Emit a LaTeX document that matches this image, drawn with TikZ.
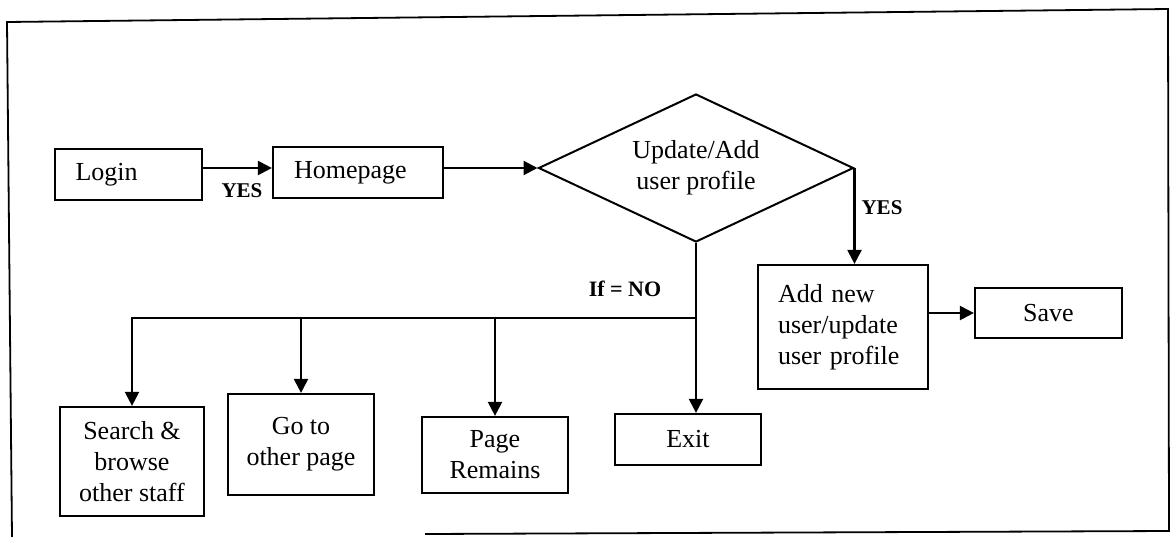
\documentclass[tikz,border=0pt]{standalone}
\usepackage{fontspec}
\setmainfont{Liberation Serif}
\usetikzlibrary{arrows.meta,shapes.geometric,calc}

\begin{document}
\begin{tikzpicture}[x=1pt,y=-1pt,
  every node/.style={font=\fontsize{26}{31}\selectfont},
  box/.style={draw, line width=2.2pt, inner sep=0pt, align=center},
  lbox/.style={draw, line width=2.2pt, inner ysep=0pt, align=left},
  decision/.style={draw, diamond, aspect=2.1, inner sep=0pt, line width=2pt, align=center},
  flow/.style={line width=2.2pt},
  arr/.style={flow, -{Triangle[length=14pt,width=14pt]}},
  lbl/.style={font=\bfseries\fontsize{21}{25}\selectfont},
]
\useasboundingbox (0,0) rectangle (1171,536);

% outer frame
\draw[line width=1.8pt] (12,537) -- (7,22) -- (1168,9) -- (1169,531) -- (425,534);

% process boxes
\node[lbox, text width=106pt, inner xsep=20.5pt, minimum height=51pt] (login) at (128.5,174.5) {Login};
\node[lbox, text width=128pt, inner xsep=21pt, minimum height=51pt] (home) at (358,172.5) {Homepage};
\node[decision, minimum width=315pt, minimum height=148pt] (dia) at (696,168) {Update/Add\\user profile};
\node[lbox, text width=130pt, inner xsep=20pt, minimum height=124pt] (add) at (843,327) {Add new\\user/update\\user profile};
\node[box, minimum width=147pt, minimum height=50pt] (save) at (1048.5,313) {Save};
\node[box, minimum width=146pt, minimum height=51pt] (exit) at (688,439.5) {Exit};
\node[box, minimum width=146pt, minimum height=76pt] (page) at (495,455) {Page\\Remains};
\node[box, minimum width=146pt, minimum height=101pt] (goto) at (301,444.5) {Go to\\other page};
\node[box, minimum width=144pt, minimum height=109pt] (search) at (132,461.5) {Search \&\\browse\\other staff};

% connectors
\draw[arr] (login.east |- dia.west) -- (home.west |- dia.west);
\node[lbl] (yes1) at (242,191) {YES};
\draw[arr] (home.east |- dia.west) -- (dia.west);
\draw[arr] (dia.east) -- (dia.east |- add.north);
\node[lbl] (yes2) at (882,208) {YES};
\draw[arr] (add.east |- save.west) -- (save.west);
\draw[arr] (dia.south) -- (dia.south |- exit.north);
\node[lbl, font=\bfseries\fontsize{22}{26}\selectfont] (no) at (625,289) {If = NO};

% branch for the NO case
\coordinate (split) at (dia.south |- 0,318);
\draw[arr] (split) -| (search.north);
\draw[arr] (goto.north |- split) -- (goto.north);
\draw[arr] (page.north |- split) -- (page.north);
\end{tikzpicture}
\end{document}
